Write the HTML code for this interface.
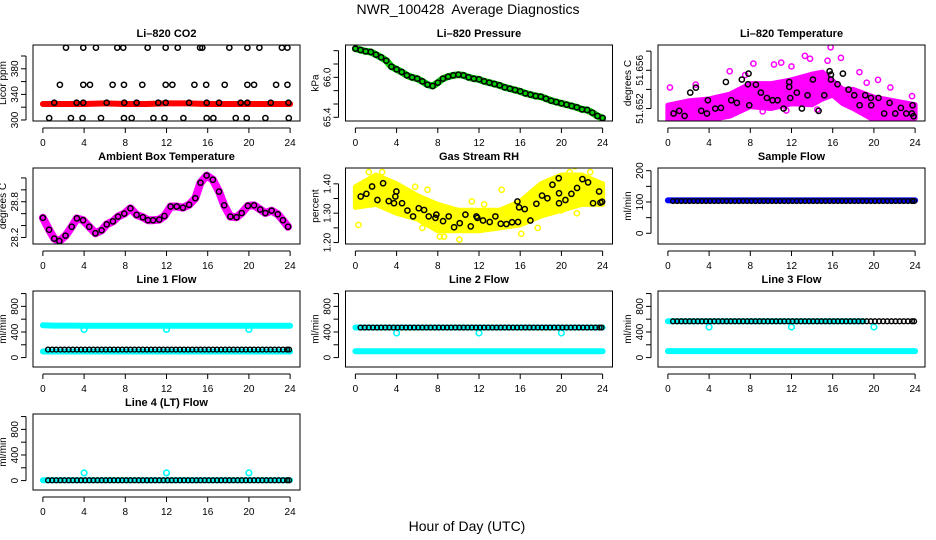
<!DOCTYPE html>
<html><head><meta charset="utf-8"><style>
html,body{margin:0;padding:0;background:#fff;}
svg{display:block;font-family:"Liberation Sans",Arial,sans-serif;}
</style></head><body>
<svg id="chart" width="936" height="540" viewBox="0 0 936 540" xmlns="http://www.w3.org/2000/svg">
<rect width="936" height="540" fill="#fff"/>
<text x="468" y="14" font-size="14" text-anchor="middle">NWR_100428&#160; Average Diagnostics</text>
<text x="467" y="531" font-size="14" text-anchor="middle">Hour of Day (UTC)</text>
</svg>
<script>
// ---------- data ----------
const xTicks = [0,4,8,12,16,20,24];
// CO2 black points
const co2Hours = [2.24,3.92,5.15,7.22,7.8,10.17,11.92,13.09,15.26,15.48,18.1,19.85,21.02,23.2,23.74,
 1.65,3.92,4.57,6.77,7.87,9.65,11.92,12.57,14.71,15.85,17.65,19.85,20.5,22.64,23.74,
 1.1,3.27,3.92,6.19,7.9,9.1,11.2,11.92,14.19,15.9,17.1,19.2,19.85,22.12,23.84,
 0.61,2.72,3.85,5.64,7.87,8.62,10.73,11.8,13.64,15.9,16.55,18.72,19.79,21.6,23.87];
const co2Values = [413,413,413,413,413,413,413,413,413,413,413,413,413,413,413,
 355,355,355,355,355,355,355,355,355,355,355,355,355,355,355,
 327,327,327,327,327,327,327,327,327,327,327,327,327,327,327,
 303,303,303,303,303,303,303,303,303,303,303,303,303,303,303];
const co2RedHours = [0,2,4,6,8,10,12,14,16,18,20,22,24];
const co2RedValues = [325,325,325,326,325,325,326,326,325,325,325,325,325];
// Pressure (half-hourly)
const presHours = [0,0.5,1,1.5,2,2.5,3,3.5,4,4.5,5,5.5,6,6.5,7,7.5,8,8.5,9,9.5,10,10.5,11,11.5,12,12.5,13,13.5,14,14.5,15,15.5,16,16.5,17,17.5,18,18.5,19,19.5,20,20.5,21,21.5,22,22.5,23,23.5,24];
const presValues = [66.43,66.41,66.39,66.38,66.34,66.30,66.25,66.16,66.12,66.08,66.03,66.00,65.98,65.94,65.89,65.87,65.92,65.98,66.01,66.03,66.04,66.03,66.00,65.98,65.97,65.94,65.92,65.90,65.88,65.85,65.83,65.81,65.79,65.76,65.74,65.72,65.71,65.68,65.65,65.63,65.61,65.59,65.57,65.55,65.52,65.51,65.47,65.42,65.39];
// Li-820 temperature
const tempHours = [0.55,1.1,1.62,2.17,2.72,3.24,3.79,3.88,4.6,5.15,5.63,6.15,6.7,7.18,7.77,7.83,7.9,8.54,9.03,9.61,10.16,10.65,11.23,11.78,11.78,11.88,12.52,13.01,13.56,14.08,14.63,15.18,15.7,15.83,15.83,16.47,16.99,17.54,18.09,18.61,19.16,19.71,19.74,20.45,21.0,21.52,22.07,22.62,23.14,23.69,23.75,23.85];
const tempValues = [51.65148,51.65176,51.65123,51.65367,51.65419,51.65176,51.65148,51.65287,51.652,51.65207,51.65478,51.65287,51.65259,51.65503,51.65454,51.65565,51.65235,51.6545,51.65367,51.65311,51.65287,51.65287,51.652,51.65478,51.65426,51.65311,51.65367,51.652,51.65339,51.65503,51.65176,51.65339,51.6559,51.65555,51.65503,51.65454,51.65565,51.65398,51.65339,51.65235,51.65339,51.65311,51.65235,51.65311,51.65148,51.65259,51.65148,51.65207,51.65148,51.65148,51.65235,51.6512];
const tempCloudHours = [0,2,4,6,8,10,12,14,15,16,17,18,20,22,24];
const tempCloudLo = [51.6508,51.6508,51.6508,51.6512,51.6522,51.652,51.6525,51.6524,51.653,51.6534,51.6525,51.652,51.6508,51.6508,51.651];
const tempCloudHi = [51.65235,51.6528,51.653,51.6535,51.6546,51.6546,51.655,51.6556,51.6558,51.6549,51.654,51.654,51.6532,51.6528,51.6524];
const tempOutHours = [0.2,6.0,8.3,10.3,11,13.3,13.8,15.8,15.5,16.8,18.6,20.4,21.6,23.7,9.2,11.5,14.5,7.5,12,2.7,5.2,19.3];
const tempOutValues = [51.6542,51.6559,51.6567,51.6566,51.6568,51.6575,51.6572,51.6584,51.657,51.6573,51.6558,51.655,51.6542,51.6533,51.6517,51.6518,51.6519,51.6555,51.6564,51.6545,51.6532,51.6547];
// Ambient box temperature
const ambHours = [0,0.6,1.1,1.6,2.2,2.8,3.3,3.9,4.5,5.1,5.7,6.2,6.8,7.3,7.9,8.5,9.1,9.7,10.2,10.7,11.3,11.8,12.4,13,13.6,14.2,14.8,15.3,15.9,16.5,17.1,17.6,18.2,18.8,19.3,19.9,20.5,21.1,21.6,22.2,22.8,23.3,23.8];
const ambValues = [28.53,28.33,28.18,28.14,28.23,28.38,28.52,28.49,28.38,28.27,28.32,28.42,28.47,28.55,28.6,28.69,28.58,28.54,28.49,28.49,28.5,28.56,28.72,28.72,28.7,28.75,28.86,29.12,29.24,29.17,28.97,28.74,28.55,28.54,28.61,28.73,28.74,28.67,28.61,28.65,28.59,28.49,28.38];
// Gas stream RH
const rhHours = [0.52,1.07,1.62,2.14,2.69,3.24,3.75,3.88,3.98,4.53,5.05,5.6,6.15,6.67,7.12,7.77,7.86,8.51,9.06,9.58,10.13,10.68,11.2,11.75,11.84,12.39,13.04,13.59,14.11,14.66,15.21,15.73,15.79,15.89,16.44,16.99,17.57,18.12,18.64,19.13,19.74,19.77,19.77,20.39,20.97,21.52,22.04,22.59,23.07,23.66,23.79,23.95];
const rhValues = [1.357,1.366,1.391,1.345,1.402,1.341,1.334,1.357,1.374,1.334,1.309,1.289,1.317,1.311,1.289,1.284,1.295,1.273,1.289,1.252,1.266,1.295,1.255,1.289,1.284,1.275,1.270,1.289,1.264,1.263,1.269,1.34,1.27,1.32,1.314,1.275,1.332,1.36,1.351,1.397,1.419,1.334,1.368,1.345,1.366,1.386,1.416,1.405,1.334,1.374,1.336,1.339];
const rhCloudHours = [0,2,4,6,8,10,12,14,16,18,20,22,24];
const rhCloudLo = [1.32,1.33,1.30,1.28,1.24,1.24,1.24,1.25,1.26,1.29,1.31,1.33,1.33];
const rhCloudHi = [1.39,1.43,1.40,1.36,1.33,1.31,1.31,1.31,1.34,1.40,1.43,1.43,1.40];
const rhOutHours = [0.3,0.2,1.3,2.6,4.7,5.8,7,8.2,8.6,10.1,11.3,12.5,14.2,16.1,17.7,18.4,20,20.8,21.3,22.8,21.5,6.5];
const rhOutValues = [1.26,1.33,1.44,1.44,1.38,1.39,1.38,1.22,1.22,1.21,1.34,1.33,1.38,1.23,1.25,1.39,1.31,1.44,1.46,1.44,1.30,1.25];
// Flows: levels at each hour 0..24 (black = average, cyan/blue = raw)
const flowHours = [0,1,2,3,4,5,6,7,8,9,10,11,12,13,14,15,16,17,18,19,20,21,22,23,24];
const avgHours = [0.5,0.9,1.3,1.7,2.1,2.5,2.9,3.3,3.7,4.1,4.5,4.9,5.3,5.7,6.1,6.5,6.9,7.3,7.7,8.1,8.5,8.9,9.3,9.7,10.1,10.5,10.9,11.3,11.7,12.1,12.5,12.9,13.3,13.7,14.1,14.5,14.9,15.3,15.7,16.1,16.5,16.9,17.3,17.7,18.1,18.5,18.9,19.3,19.7,20.1,20.5,20.9,21.3,21.7,22.1,22.5,22.9,23.3,23.7,23.9];
const sampleRaw   = [105,105,105,105,105,105,105,105,105,105,105,105,105,105,105,105,105,105,105,105,105,105,105,105,105];
const sampleAvg   = [103,103,103,103,103,103,103,103,103,103,103,103,103,103,103,103,103,103,103,103,103,103,103,103,103];
const line1RawHi  = [505,500,500,500,498,498,498,498,498,498,498,498,498,498,498,498,498,498,498,498,498,498,498,498,498];
const line1RawLo  = [95,95,95,95,95,95,95,95,95,95,95,95,95,95,95,95,95,95,95,95,95,95,95,95,95];
const line1Avg    = [125,125,125,125,125,125,125,125,125,125,125,125,125,125,125,125,125,125,125,125,125,125,125,125,125];
const line2RawHi  = [470,470,470,470,470,470,470,470,470,470,470,470,470,470,470,470,470,470,470,470,470,470,470,470,470];
const line2RawLo  = [99,99,99,99,99,99,99,99,99,99,99,99,99,99,99,99,99,99,99,99,99,99,99,99,99];
const line2Avg    = [469,469,469,469,469,469,469,469,469,469,469,469,469,469,469,469,469,469,469,469,469,469,469,469,469];
const line3RawHi  = [567,567,567,567,567,567,567,567,567,567,567,567,567,567,567,567,567,567,567,567,567,567,567,567,567];
const line3RawLo  = [100,100,100,100,100,100,100,100,100,100,100,100,100,100,100,100,100,100,100,100,100,100,100,100,100];
const line3Avg    = [567,567,567,567,567,567,567,567,567,567,567,567,567,567,567,567,567,567,567,567,567,567,567,567,567];
const line4Raw    = [5,5,5,5,5,5,5,5,5,5,5,5,5,5,5,5,5,5,5,5,5,5,5,5,5];
const line4Avg    = [5,5,5,5,5,5,5,5,5,5,5,5,5,5,5,5,5,5,5,5,5,5,5,5,5];
const dipHours = [4,12,20];
const line1Dips = [440,440,440];
const line2Dips = [384,384,384];
const line3Dips = [478,478,478];
const line4Dips = [120,120,120];

// ---------- drawing ----------
const svg = document.getElementById('chart');
const NS = 'http://www.w3.org/2000/svg';
function el(tag, attrs, parent){const e=document.createElementNS(NS,tag);for(const k in attrs)e.setAttribute(k,attrs[k]);(parent||svg).appendChild(e);return e;}
const colL=[33,345.5,658], rowT=[45,168,291,414], W=267, H=76;

function panel(col,row,name,title,ylab,ylim,yticks,ylabels){
  const g=el('g',{});
  
  
  const L=colL[col],T=rowT[row],R=L+W,B=T+H;
  const xs=h=>L+(h+0.96)/25.92*W;
  const ys=v=>B-(v-ylim[0])/(ylim[1]-ylim[0])*H;
  const t=el('text',{x:(L+R)/2,y:T-8,'font-size':11,'font-weight':'bold','text-anchor':'middle'},g);
  t.textContent=title;
  
  
  const plot=el('g',{},g);
  
  
  const ax=el('g',{},g);
  
  
  el('rect',{x:L,y:T,width:W,height:H,fill:'none',stroke:'#000','stroke-width':1},ax);
  el('line',{x1:xs(0),x2:xs(24),y1:B+7,y2:B+7,stroke:'#000'},ax);
  xTicks.forEach(v=>{
    el('line',{x1:xs(v),x2:xs(v),y1:B+7,y2:B+12,stroke:'#000'},ax);
    const tx=el('text',{x:xs(v),y:B+25,'font-size':10,'text-anchor':'middle'},ax);
    tx.textContent=v;
    
    
  });
  el('line',{x1:L-7,x2:L-7,y1:ys(yticks[0]),y2:ys(yticks[yticks.length-1]),stroke:'#000'},ax);
  yticks.forEach(v=>{el('line',{x1:L-12,x2:L-7,y1:ys(v),y2:ys(v),stroke:'#000'},ax);});
  ylabels.forEach(v=>{
    const yy=ys(v);
    const ty=el('text',{x:L-15,y:yy,'font-size':10,'text-anchor':'middle',transform:`rotate(-90 ${L-15} ${yy})`},ax);
    ty.textContent=v;
    
    
  });
  const yt=el('text',{x:L-27,y:(T+B)/2,'font-size':10,'text-anchor':'middle',transform:`rotate(-90 ${L-27} ${(T+B)/2})`},ax);
  yt.textContent=ylab;
  
  
  const cid='clip'+col+row;
  const cp=el('clipPath',{id:cid},g); el('rect',{x:L,y:T,width:W,height:H},cp);
  plot.setAttribute('clip-path',`url(#${cid})`);
  return {xs,ys,plot};
}
function circles(p,hs,vs,color,r,sw,nm){
  hs.forEach((h,i)=>{
    const c=el('circle',{cx:p.xs(h),cy:p.ys(vs[i]),r:r||2.6,fill:'none',stroke:color,'stroke-width':sw||1.4},p.plot);
    
    
  });
}
function band(p,hs,vs,color,w,nm){
  const pl=el('polyline',{points:hs.map((h,i)=>p.xs(h)+','+p.ys(vs[i])).join(' '),fill:'none',stroke:color,'stroke-width':w,'stroke-linejoin':'round','stroke-linecap':'round'},p.plot);
  
  
}
function cloud(p,hs,lo,hi,color,nm){
  const pts=hs.map((h,i)=>p.xs(h)+','+p.ys(hi[i])).concat(hs.slice().reverse().map((h,j)=>{const i=hs.length-1-j;return p.xs(h)+','+p.ys(lo[i]);}));
  const pg=el('polygon',{points:pts.join(' '),fill:color,stroke:color,'stroke-width':5,'stroke-linejoin':'round'},p.plot);
  
  
}
function avgAt(arr,h){return arr[Math.min(24,Math.round(h))];}

let p=panel(0,0,'co2','Li\u2013820 CO2','Licor ppm',[298.4,417.2],[300,320,340,360,380,400],[300,340,380]);
band(p,co2RedHours,co2RedValues,'#ff0000',6,'co2-raw-band');
circles(p,co2Hours,co2Values,'#000',2.6,1.5,'co2-avg-point');
p=panel(1,0,'pressure','Li\u2013820 Pressure','kPa',[65.345,66.485],[65.4,65.6,65.8,66.0,66.2,66.4],['65.4','66.0']);
band(p,presHours,presValues,'#00cc00',7,'pressure-raw-band');
circles(p,presHours,presValues,'#000',2.6,1.5,'pressure-avg-point');
p=panel(2,0,'li820-temp','Li\u2013820 Temperature','degrees C',[51.6507,51.65864],[51.652,51.654,51.656,51.658],['51.652','51.656']);
cloud(p,tempCloudHours,tempCloudLo,tempCloudHi,'#ff00ff','temp-raw-cloud');
circles(p,tempOutHours,tempOutValues,'#ff00ff',2.6,1.5,'temp-raw-point');
circles(p,tempHours,tempValues,'#000',2.6,1.5,'temp-avg-point');
p=panel(0,1,'ambient','Ambient Box Temperature','degrees C',[28.09,29.367],[28.2,28.4,28.6,28.8,29.0,29.2],['28.2','28.8']);
band(p,ambHours,ambValues,'#ff00ff',8,'ambient-raw-band');
circles(p,ambHours,ambValues,'#000',2.6,1.5,'ambient-avg-point');
p=panel(1,1,'rh','Gas Stream RH','percent',[1.195,1.454],[1.20,1.25,1.30,1.35,1.40],['1.20','1.30','1.40']);
cloud(p,rhCloudHours,rhCloudLo,rhCloudHi,'#ffff00','rh-raw-cloud');
circles(p,rhOutHours,rhOutValues,'#ffff00',2.6,1.5,'rh-raw-point');
circles(p,rhHours,rhValues,'#000',2.6,1.5,'rh-avg-point');
p=panel(2,1,'sample-flow','Sample Flow','ml/min',[-34.2,208.6],[0,50,100,150,200],[0,100,200]);
band(p,flowHours,sampleRaw,'#0000ff',6,'sample-raw-band');
circles(p,avgHours,avgHours.map(h=>avgAt(sampleAvg,h)),'#000',2.4,1.4,'sample-avg-point');
const fy=[-147,1040], ft=[0,200,400,600,800,1000], fl=[0,400,800];
p=panel(0,2,'line1-flow','Line 1 Flow','ml/min',fy,ft,fl);
band(p,flowHours,line1RawHi,'#00ffff',6,'line1-raw-high-band');
band(p,flowHours,line1RawLo,'#00ffff',6,'line1-raw-low-band');
circles(p,dipHours,line1Dips,'#00ffff',2.8,1.6,'line1-raw-dip');
circles(p,avgHours,avgHours.map(h=>avgAt(line1Avg,h)),'#000',2.4,1.4,'line1-avg-point');
p=panel(1,2,'line2-flow','Line 2 Flow','ml/min',fy,ft,fl);
band(p,flowHours,line2RawHi,'#00ffff',6,'line2-raw-high-band');
band(p,flowHours,line2RawLo,'#00ffff',6,'line2-raw-low-band');
circles(p,dipHours,line2Dips,'#00ffff',2.8,1.6,'line2-raw-dip');
circles(p,avgHours,avgHours.map(h=>avgAt(line2Avg,h)),'#000',2.4,1.4,'line2-avg-point');
p=panel(2,2,'line3-flow','Line 3 Flow','ml/min',fy,ft,fl);
band(p,flowHours.slice(0,20),line3RawHi.slice(0,20),'#00ffff',6,'line3-raw-high-band');
band(p,flowHours,line3RawLo,'#00ffff',6,'line3-raw-low-band');
circles(p,dipHours,line3Dips,'#00ffff',2.8,1.6,'line3-raw-dip');
circles(p,avgHours,avgHours.map(h=>avgAt(line3Avg,h)),'#000',2.4,1.4,'line3-avg-point');
p=panel(0,3,'line4-flow','Line 4 (LT) Flow','ml/min',fy,ft,fl);
band(p,flowHours,line4Raw,'#00ffff',6,'line4-raw-band');
circles(p,dipHours,line4Dips,'#00ffff',2.8,1.6,'line4-raw-dip');
circles(p,avgHours,avgHours.map(h=>avgAt(line4Avg,h)),'#000',2.4,1.4,'line4-avg-point');
</script>
</body></html>
